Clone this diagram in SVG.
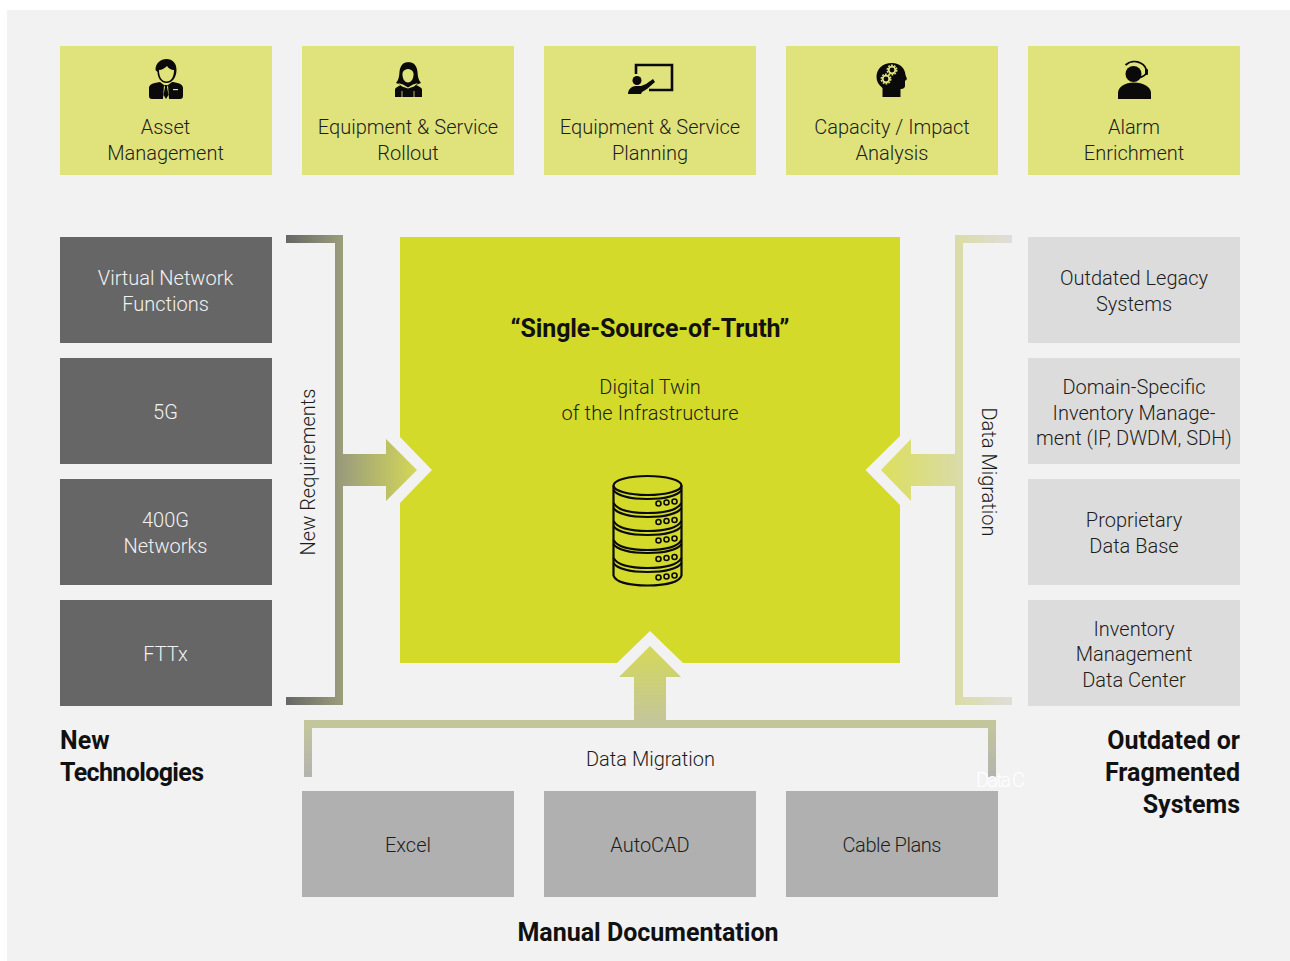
<svg xmlns="http://www.w3.org/2000/svg" width="1290" height="961" viewBox="0 0 1290 961">
<style>
text{font-family:"Roboto","Liberation Sans",sans-serif;font-size:20px;text-anchor:middle;font-weight:300}
.lt{fill:#1d1d1b}.wt{fill:#f2f2f2}
.h{font-weight:700;font-size:25px;fill:#111}
.y{fill:#e0e37b}.d{fill:#666}.l{fill:#dcdcdc}.g{fill:#b0b0b0}
.bg{fill:#f2f2f2}
.ic{fill:#0a0a0a}
</style>
<defs>
<linearGradient id="lb" gradientUnits="userSpaceOnUse" x1="286" y1="0" x2="343" y2="0"><stop offset="0" stop-color="#666"/><stop offset="1" stop-color="#9c9e7b"/></linearGradient>
<linearGradient id="la" gradientUnits="userSpaceOnUse" x1="343" y1="0" x2="417" y2="0"><stop offset="0" stop-color="#9c9e7b"/><stop offset="1" stop-color="#d4d757"/></linearGradient>
<linearGradient id="rb" gradientUnits="userSpaceOnUse" x1="955" y1="0" x2="1012" y2="0"><stop offset="0" stop-color="#dadca6"/><stop offset="1" stop-color="#dededa"/></linearGradient>
<linearGradient id="ra" gradientUnits="userSpaceOnUse" x1="881" y1="0" x2="958" y2="0"><stop offset="0" stop-color="#dcdf5c"/><stop offset="1" stop-color="#d9dba6"/></linearGradient>
<linearGradient id="ba" gradientUnits="userSpaceOnUse" x1="0" y1="646" x2="0" y2="722"><stop offset="0" stop-color="#d5d858"/><stop offset="1" stop-color="#c3c69b"/></linearGradient>
<linearGradient id="bb" gradientUnits="userSpaceOnUse" x1="0" y1="724" x2="0" y2="777"><stop offset="0" stop-color="#c3c69b"/><stop offset="1" stop-color="#b3b3b0"/></linearGradient>
</defs>
<rect x="0" y="0" width="1290" height="961" fill="#fff"/>
<rect x="7" y="10" width="1283" height="951" class="bg"/>

<g id="node-asset-management"><rect x="60" y="46" width="212" height="129" class="y"/>
<path class="ic" d="M155.500 70c0-7 5-11 11-11s10 4 10 11c0 7-4 13-10 13s-9-6-9-11z"/>
<path fill="#e0e37b" d="M159 70c3 0 6-2 8-4 1 2 4 4 7 4 0 7-3 11.500-7.500 11.500S159 77 159 70z"/>
<path class="ic" d="M160 82l4 3-1 14h-11c-2 0-3-1-3-3v-8c0-3 3-5 11-6zM172 82l-4 3 1 14h11c2 0 3-1 3-3v-8c0-3-3-5-10-6zM164 85h4l-1 2 1.500 8-2.500 4-2.500-4 1.500-8z"/>
<rect x="173" y="89" width="5" height="1.200" fill="#e0e37b"/>
<text class="lt" x="165.500" y="134">Asset</text><text class="lt" x="165.500" y="160">Management</text></g>

<g id="node-equipment-rollout"><rect x="302" y="46" width="212" height="129" class="y"/>
<path class="ic" d="M408 62c6 0 9 4 9.500 10 .3 5 1 8 3.500 11l-5 2c2 1 5 2 6 4v8h-27v-8c1-2 4-3 6-4l-5-2c2.500-3 3.200-6 3.500-11 .5-6 3.500-10 9-10z"/>
<path fill="#e0e37b" d="M402.500 73c1-3 3.500-4 5.500-4s4.500 1 5.500 4c.5 5-2 9.500-5.500 9.500s-6-4.500-5.500-9.500zM398 83l5 1.500 5 3 5-3 5-1.500-4 3.500-6 2-6-2z"/>
<path fill="none" stroke="#e0e37b" stroke-width=".8" d="M402 97v-6M414 97v-6"/>
<text class="lt" x="408" y="134">Equipment &amp; Service</text><text class="lt" x="408" y="160">Rollout</text></g>

<g id="node-equipment-planning"><rect x="544" y="46" width="212" height="129" class="y"/>
<path fill="none" stroke="#0a0a0a" stroke-width="2.600" d="M636 74v-9h36v25h-23"/>
<circle class="ic" cx="637" cy="80.500" r="4.500"/>
<path class="ic" d="M628 94c0-5 4-8 8-8h5l5-2 7-5 2 3-8 7-5 3-1 2z"/>
<text class="lt" x="650" y="134">Equipment &amp; Service</text><text class="lt" x="650" y="160">Planning</text></g>

<g id="node-capacity-impact"><rect x="786" y="46" width="212" height="129" class="y"/>
<path class="ic" d="M892 63c8 0 13 5 13.500 12l1.500 4-2 2v5c0 2-2 3-4 3h-.5v8h-18v-9c-4-3-6-7-6-11 0-8 6-14 15.500-14z"/>
<g fill="none" stroke="#e0e37b">
<circle cx="892" cy="70" r="3.300" stroke-width="1.800"/><circle cx="892" cy="70" r="4.800" stroke-width="1.400" stroke-dasharray="1.800 1.200"/>
<circle cx="886" cy="79" r="3.300" stroke-width="1.800"/><circle cx="886" cy="79" r="4.800" stroke-width="1.400" stroke-dasharray="1.800 1.200"/>
</g>
<text class="lt" x="892" y="134">Capacity / Impact</text><text class="lt" x="892" y="160">Analysis</text></g>

<g id="node-alarm-enrichment"><rect x="1028" y="46" width="212" height="129" class="y"/>
<circle class="ic" cx="1133.500" cy="74" r="8"/>
<path fill="none" stroke="#0a0a0a" stroke-width="1.800" d="M1125.500 65c4-3.500 10-4.500 15-2 4 2 6 5 6 9 0 3-4 5-9 6.500"/>
<rect class="ic" x="1145" y="69" width="3" height="6" rx="1"/>
<path class="ic" d="M1118 99v-6c0-6 7-10.500 16-10.500s17 4.500 17 10.500v6z"/>
<text class="lt" x="1134" y="134">Alarm</text><text class="lt" x="1134" y="160">Enrichment</text></g>

<g id="node-vnf"><rect x="60" y="237" width="212" height="106" class="d"/><text class="wt" x="165.500" y="285">Virtual Network</text><text class="wt" x="165.500" y="311">Functions</text></g>
<g id="node-5g"><rect x="60" y="358" width="212" height="106" class="d"/><text class="wt" x="165.500" y="419">5G</text></g>
<g id="node-400g"><rect x="60" y="479" width="212" height="106" class="d"/><text class="wt" x="165.500" y="527">400G</text><text class="wt" x="165.500" y="553">Networks</text></g>
<g id="node-fttx"><rect x="60" y="600" width="212" height="106" class="d"/><text class="wt" x="165.500" y="661">FTTx</text></g>

<g id="node-legacy"><rect x="1028" y="237" width="212" height="106" class="l"/><text class="lt" x="1134" y="285">Outdated Legacy</text><text class="lt" x="1134" y="311">Systems</text></g>
<g id="node-domain"><rect x="1028" y="358" width="212" height="106" class="l"/><text class="lt" x="1134" y="394">Domain-Specific</text><text class="lt" x="1134" y="420">Inventory Manage-</text><text class="lt" x="1134" y="445">ment (IP, DWDM, SDH)</text></g>
<g id="node-proprietary"><rect x="1028" y="479" width="212" height="106" class="l"/><text class="lt" x="1134" y="527">Proprietary</text><text class="lt" x="1134" y="553">Data Base</text></g>
<g id="node-datacenter"><rect x="1028" y="600" width="212" height="106" class="l"/><text class="lt" x="1134" y="636">Inventory</text><text class="lt" x="1134" y="661">Management</text><text class="lt" x="1134" y="687">Data Center</text></g>

<g id="node-excel"><rect x="302" y="791" width="212" height="106" class="g"/><text class="lt" x="408" y="852">Excel</text></g>
<g id="node-autocad"><rect x="544" y="791" width="212" height="106" class="g"/><text class="lt" x="650" y="852">AutoCAD</text></g>
<g id="node-cable"><rect x="786" y="791" width="212" height="106" class="g"/><text class="lt" x="892" y="852" textLength="99">Cable Plans</text></g>

<g id="node-sot"><rect x="400" y="237" width="500" height="426" fill="#d3da2a"/>
<polygon class="bg" points="400,437 432,470 400,503"/>
<polygon class="bg" points="900,436 865.500,470 900,505"/>
<polygon class="bg" points="617,663 650,631 683,663"/>
<text class="h" x="650" y="337" textLength="279">“Single-Source-of-Truth”</text>
<text class="lt" x="650" y="394">Digital Twin</text><text class="lt" x="650" y="420" textLength="177">of the Infrastructure</text>
<g id="db-icon" fill="none" stroke="#0a0a0a" stroke-width="2.200">
<ellipse cx="647.500" cy="485.500" rx="34" ry="9.500"/>
<path d="M613.500 485.500v90c2 7 17 10 34 10s32-3 34-10v-90"/>
<path d="M613.500 490c4 6 18 9 34 9s30-3 34-9"/>
<path d="M613.500 503c4 7 18 10 34 10s30-3 34-10M613.500 508c4 6 18 9 34 9s30-3 34-9"/>
<path d="M613.500 521c4 7 18 10 34 10s30-3 34-10M613.500 526c4 6 18 9 34 9s30-3 34-9"/>
<path d="M613.500 540c4 7 18 10 34 10s30-3 34-10M613.500 544c4 6 18 9 34 9s30-3 34-9"/>
<path d="M613.500 558c4 7 18 10 34 10s30-3 34-10M613.500 563c4 6 18 9 34 9s30-3 34-9"/>
<g stroke-width="1.600">
<circle cx="658.500" cy="503.500" r="2.500"/><circle cx="666.500" cy="502.500" r="2.500"/><circle cx="674.500" cy="501.500" r="2.500"/>
<circle cx="658.500" cy="522" r="2.500"/><circle cx="666.500" cy="521" r="2.500"/><circle cx="674.500" cy="520" r="2.500"/>
<circle cx="658.500" cy="540.500" r="2.500"/><circle cx="666.500" cy="539.500" r="2.500"/><circle cx="674.500" cy="538.500" r="2.500"/>
<circle cx="658.500" cy="559" r="2.500"/><circle cx="666.500" cy="558" r="2.500"/><circle cx="674.500" cy="557" r="2.500"/>
<circle cx="658.500" cy="577.500" r="2.500"/><circle cx="666.500" cy="576.500" r="2.500"/><circle cx="674.500" cy="575.500" r="2.500"/>
</g></g></g>

<g id="connectors">
<path fill="url(#lb)" d="M286 235h57v470h-57v-8h49v-454h-49z"/>
<polygon fill="url(#la)" points="343,454 386,454 386,439 417,470 386,501 386,486 343,486"/>
<path fill="url(#rb)" d="M1012 235h-57v470h57v-8h-49v-454h49z"/>
<polygon fill="url(#ra)" points="955,454 911,454 911,439 881,470 911,501 911,486 955,486"/>
<polygon fill="url(#ba)" points="634,720 634,677 619,677 650,646 681,677 666,677 666,720"/>
<rect x="304" y="724" width="8" height="53" fill="url(#bb)"/>
<rect x="988" y="724" width="8" height="53" fill="url(#bb)"/>
<rect x="304" y="720" width="692" height="8" fill="#c3c69b"/>
</g>

<g id="labels">
<text class="lt" transform="translate(315,472) rotate(-90)">New Requirements</text>
<text class="lt" transform="translate(982,472) rotate(90)">Data Migration</text>
<text class="lt" x="650.500" y="766">Data Migration</text>
<text x="1000.500" y="787" fill="#fff" textLength="49">Data C</text>
<text class="h" style="text-anchor:start" x="60" y="749">New</text>
<text class="h" style="text-anchor:start" x="60" y="781" textLength="144">Technologies</text>
<text class="h" style="text-anchor:end" x="1240" y="749">Outdated or</text>
<text class="h" style="text-anchor:end" x="1240" y="781">Fragmented</text>
<text class="h" style="text-anchor:end" x="1240" y="813">Systems</text>
<text class="h" x="648" y="941">Manual Documentation</text>
</g>
</svg>
